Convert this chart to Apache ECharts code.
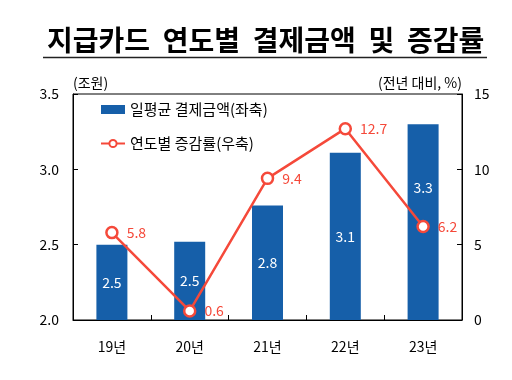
<!DOCTYPE html>
<html><head><meta charset="utf-8">
<script src="https://cdn.jsdelivr.net/npm/echarts@6/dist/echarts.min.js"></script>
<style>html,body{margin:0;padding:0;background:#fff}#c{width:512px;height:380px}</style>
</head><body><div id="c"></div>
<script>
const categories = ['19년', '20년', '21년', '22년', '23년'];
const amount = [2.50, 2.52, 2.76, 3.11, 3.30];
const amountLabels = ['2.5', '2.5', '2.8', '3.1', '3.3'];
const growth = [5.8, 0.6, 9.4, 12.7, 6.2];
const leftTicks = { min: 2.0, max: 3.5, interval: 0.5 };
const rightTicks = { min: 0, max: 15, interval: 5 };

const FONT = '"Noto Sans CJK KR", "Noto Sans", sans-serif';
const BLUE = '#165fa9';
const RED = '#f5493a';
const chart = echarts.init(document.getElementById('c'), null, { renderer: 'canvas' });
chart.setOption({
  animation: false,
  textStyle: { fontFamily: FONT },
  title: {
    text: '지급카드  연도별  결제금액  및  증감률',
    left: 42, top: 21,
    textStyle: { fontFamily: FONT, fontSize: 28, fontWeight: 'bold', color: '#000' }
  },
  graphic: [
    { type: 'line', shape: { x1: 43, y1: 57.5, x2: 487, y2: 57.5 }, style: { stroke: '#222', lineWidth: 1.5 } },
    { type: 'text', left: 73, top: 76, style: { text: '(조원)', font: '14px ' + FONT, fill: '#000' } },
    { type: 'text', right: 50, top: 76, style: { text: '(전년 대비, %)', font: '14px ' + FONT, fill: '#000' } }
  ],
  legend: {
    orient: 'vertical', left: 95, top: 97, itemGap: 19,
    textStyle: { fontFamily: FONT, fontSize: 15, color: '#000' },
    data: [
      { name: '일평균 결제금액(좌축)', icon: 'rect', itemStyle: { color: BLUE } },
      { name: '연도별 증감률(우축)' }
    ],
    itemWidth: 24, itemHeight: 9
  },
  grid: { left: 73, right: 50, top: 94, bottom: 60, show: true, borderColor: '#000', borderWidth: 1 },
  xAxis: {
    type: 'category', data: categories,
    axisLine: { lineStyle: { color: '#000' } },
    axisTick: { show: true, inside: true, length: 5, alignWithLabel: false, lineStyle: { color: '#000' } },
    axisLabel: { color: '#000', fontSize: 14, margin: 20, fontFamily: FONT }
  },
  yAxis: [
    {
      type: 'value', min: leftTicks.min, max: leftTicks.max, interval: leftTicks.interval,
      splitLine: { show: false },
      axisLine: { show: true, lineStyle: { color: '#000' } },
      axisTick: { show: true, inside: true, length: 5, lineStyle: { color: '#000' } },
      axisLabel: { color: '#000', fontSize: 14, margin: 14, fontFamily: FONT, formatter: v => v.toFixed(1) }
    },
    {
      type: 'value', min: rightTicks.min, max: rightTicks.max, interval: rightTicks.interval,
      splitLine: { show: false },
      axisLine: { show: true, lineStyle: { color: '#000' } },
      axisTick: { show: true, inside: true, length: 5, lineStyle: { color: '#000' } },
      axisLabel: { color: '#000', fontSize: 14, margin: 12, fontFamily: FONT }
    }
  ],
  series: [
    {
      name: '일평균 결제금액(좌축)', type: 'bar', yAxisIndex: 0, barWidth: 31,
      data: amount.map((v, i) => i === 4 ? { value: v, label: { offset: [0, -34] } } : v),
      itemStyle: { color: BLUE },
      label: { show: true, position: 'inside', color: '#fff', fontSize: 14, fontFamily: FONT,
        formatter: p => amountLabels[p.dataIndex] }
    },
    {
      name: '연도별 증감률(우축)', type: 'line', yAxisIndex: 1,
      data: growth,
      symbol: 'circle', symbolSize: 11,
      lineStyle: { color: RED, width: 2.5 },
      itemStyle: { color: '#fff', borderColor: RED, borderWidth: 2.5 },
      label: { show: true, position: 'right', distance: 8, color: RED, fontSize: 14, fontFamily: FONT,
        formatter: p => p.value.toFixed(1) }
    }
  ]
});
</script></body></html>
